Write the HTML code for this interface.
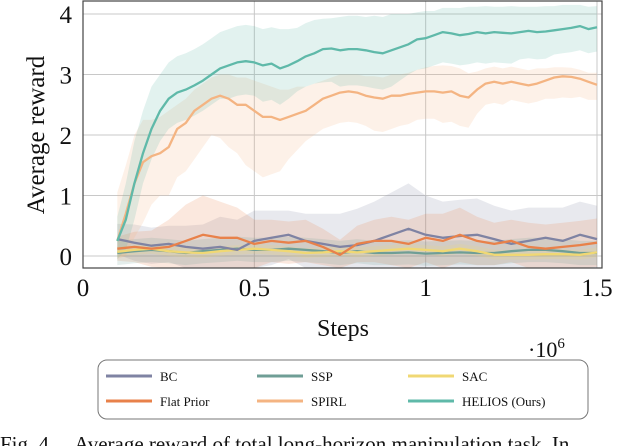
<!DOCTYPE html>
<html><head><meta charset="utf-8">
<style>
html,body{margin:0;padding:0;background:#fff;width:628px;height:446px;overflow:hidden}
svg{display:block;font-family:"Liberation Serif",serif}
</style></head>
<body>
<svg id="chart" width="628" height="446" viewBox="0 0 628 446">
<g id="grid"></g>
<g id="bands"></g>
<g id="lines"></g>
<rect x="83" y="1" width="519" height="267" fill="none" stroke="#444" stroke-width="1.2"/>
<g id="ticks" font-size="25" fill="#111"></g>
<text transform="translate(44,135) rotate(-90)" text-anchor="middle" font-size="25" fill="#111">Average reward</text>
<text x="343" y="336" text-anchor="middle" font-size="24" fill="#111">Steps</text>
<g id="legend">
<rect x="98" y="360" width="490" height="59" rx="9" fill="#fff" stroke="#777" stroke-width="1"/>
</g>
<text x="528" y="357" font-size="22" fill="#111">·10<tspan dy="-9" font-size="15">6</tspan></text>
<text x="0" y="451" font-size="21" fill="#111" xml:space="preserve">Fig. 4.    Average reward of total long-horizon manipulation task. In</text>
</svg>
<script>
const xTicks=[0,0.5,1,1.5];
const xLabels=["0","0.5","1","1.5"];
const yTicks=[0,1,2,3,4];
const yLabels=["0","1","2","3","4"];
const seriesNames=["BC","SSP","SAC","Flat Prior","SPIRL","HELIOS (Ours)"];
const seriesColors=["#7f83a3","#6f9e96","#f0d874","#e8814a","#f4b482","#5fb9a9"];
const xFine=[];for(let i=0;i<57;i++)xFine.push(+(0.1+i*0.025).toFixed(3));
const xCoarse=[];for(let i=0;i<29;i++)xCoarse.push(+(0.1+i*0.05).toFixed(3));
const heliosMean=[0.25,0.6,1.2,1.7,2.1,2.4,2.6,2.7,2.75,2.82,2.9,3.0,3.1,3.15,3.2,3.22,3.2,3.15,3.18,3.1,3.15,3.22,3.3,3.35,3.42,3.43,3.4,3.42,3.42,3.4,3.37,3.35,3.4,3.45,3.5,3.58,3.6,3.65,3.7,3.68,3.65,3.67,3.7,3.68,3.7,3.69,3.68,3.7,3.72,3.7,3.71,3.73,3.75,3.77,3.8,3.75,3.78];
const heliosUp=[0.4,0.6,0.7,0.7,0.7,0.6,0.6,0.6,0.6,0.6,0.6,0.6,0.6,0.6,0.6,0.6,0.6,0.6,0.6,0.65,0.6,0.55,0.55,0.55,0.5,0.5,0.55,0.55,0.55,0.55,0.6,0.6,0.6,0.55,0.5,0.45,0.45,0.4,0.4,0.42,0.45,0.45,0.42,0.45,0.42,0.43,0.45,0.42,0.4,0.42,0.42,0.4,0.4,0.38,0.35,0.37,0.35];
const heliosLo=[0.3,0.5,0.6,0.5,0.5,0.5,0.5,0.5,0.5,0.5,0.5,0.5,0.5,0.55,0.55,0.55,0.55,0.6,0.6,0.6,0.55,0.5,0.5,0.5,0.55,0.55,0.6,0.6,0.6,0.6,0.6,0.6,0.6,0.55,0.5,0.5,0.5,0.5,0.5,0.5,0.5,0.5,0.5,0.5,0.5,0.5,0.5,0.45,0.45,0.45,0.45,0.4,0.4,0.4,0.4,0.4,0.4];
const spirlMean=[0.25,0.7,1.2,1.55,1.65,1.7,1.8,2.1,2.2,2.4,2.5,2.6,2.65,2.6,2.5,2.5,2.4,2.3,2.3,2.25,2.3,2.35,2.4,2.5,2.6,2.65,2.7,2.72,2.7,2.65,2.62,2.6,2.65,2.65,2.68,2.7,2.72,2.72,2.7,2.72,2.65,2.62,2.75,2.85,2.88,2.85,2.88,2.85,2.82,2.85,2.9,2.95,2.97,2.96,2.93,2.88,2.83];
const spirlUp=[0.8,0.8,0.8,0.7,0.6,0.6,0.6,0.4,0.4,0.35,0.35,0.35,0.35,0.4,0.45,0.45,0.5,0.55,0.5,0.5,0.45,0.45,0.4,0.35,0.3,0.3,0.3,0.28,0.3,0.32,0.35,0.35,0.35,0.35,0.35,0.38,0.4,0.42,0.45,0.42,0.45,0.4,0.3,0.25,0.25,0.25,0.25,0.25,0.25,0.25,0.2,0.17,0.15,0.15,0.15,0.15,0.2];
const spirlLo=[0.3,0.7,0.9,1.0,0.8,0.7,0.8,0.8,0.8,0.8,0.7,0.6,0.7,0.8,0.8,1.0,1.0,1.0,0.95,0.85,0.7,0.6,0.5,0.5,0.5,0.5,0.5,0.5,0.5,0.5,0.55,0.55,0.55,0.5,0.5,0.45,0.45,0.45,0.5,0.5,0.5,0.5,0.4,0.35,0.35,0.35,0.3,0.3,0.3,0.3,0.3,0.35,0.35,0.35,0.3,0.3,0.25];
const bcMean=[0.28,0.22,0.17,0.2,0.15,0.12,0.15,0.1,0.25,0.3,0.35,0.25,0.2,0.15,0.18,0.25,0.35,0.45,0.35,0.3,0.33,0.35,0.28,0.2,0.25,0.3,0.25,0.35,0.28];
const bcBand=[0.25,0.3,0.3,0.3,0.35,0.4,0.5,0.5,0.5,0.45,0.4,0.45,0.5,0.55,0.6,0.65,0.7,0.75,0.65,0.6,0.6,0.6,0.55,0.55,0.55,0.5,0.55,0.55,0.55];
const flatMean=[0.12,0.15,0.12,0.15,0.25,0.35,0.3,0.3,0.2,0.25,0.22,0.25,0.15,0.02,0.2,0.25,0.25,0.2,0.3,0.25,0.35,0.25,0.2,0.25,0.15,0.12,0.15,0.18,0.22];
const flatBand=[0.2,0.25,0.3,0.45,0.6,0.65,0.6,0.5,0.4,0.35,0.35,0.35,0.3,0.25,0.3,0.35,0.4,0.4,0.4,0.45,0.45,0.4,0.35,0.35,0.4,0.4,0.4,0.4,0.4];
const sspMean=[0.05,0.08,0.1,0.08,0.05,0.08,0.1,0.12,0.1,0.1,0.12,0.1,0.08,0.05,0.08,0.05,0.05,0.06,0.04,0.05,0.06,0.05,0.05,0.08,0.1,0.1,0.08,0.05,0.05];
const sspBand=[0.2,0.2,0.2,0.2,0.2,0.2,0.2,0.2,0.2,0.2,0.2,0.2,0.2,0.2,0.2,0.2,0.2,0.2,0.2,0.2,0.2,0.2,0.2,0.2,0.2,0.2,0.2,0.2,0.2];
const sacMean=[0.07,0.1,0.12,0.08,0.06,0.05,0.08,0.1,0.12,0.1,0.08,0.05,0.06,0.08,0.06,0.08,0.1,0.12,0.1,0.08,0.12,0.08,0.02,0.02,0.02,0.03,0.03,0.02,0.06];
const sacBand=[0.08,0.08,0.08,0.08,0.08,0.08,0.08,0.08,0.08,0.08,0.08,0.08,0.08,0.08,0.08,0.08,0.08,0.08,0.08,0.08,0.08,0.08,0.08,0.08,0.08,0.08,0.08,0.08,0.08];

const NS="http://www.w3.org/2000/svg";
const X0=83,X1=597,YB=256,YT=14;
function xs(v){return X0+(v/1.5)*(X1-X0);}
function ys(v){return YB-(v/4)*(YB-YT);}
function mk(tag,attrs,parent){const e=document.createElementNS(NS,tag);for(const k in attrs)e.setAttribute(k,attrs[k]);parent.appendChild(e);return e;}
const grid=document.getElementById('grid'),bands=document.getElementById('bands'),lines=document.getElementById('lines'),ticks=document.getElementById('ticks'),legend=document.getElementById('legend');
xTicks.forEach((t,i)=>{
  const l=mk('line',{x1:xs(t),x2:xs(t),y1:1,y2:268,stroke:'#c8c8c8','stroke-width':1},grid);
  
  
  const tx=mk('text',{x:xs(t),y:296,'text-anchor':'middle'},ticks);tx.textContent=xLabels[i];
  
  
});
yTicks.forEach((t,i)=>{
  const l=mk('line',{x1:83,x2:602,y1:ys(t),y2:ys(t),stroke:'#c8c8c8','stroke-width':1},grid);
  
  
  const tx=mk('text',{x:72,y:ys(t)+9,'text-anchor':'end'},ticks);tx.textContent=yLabels[i];
  
  
});
function band(xa,m,up,lo,col,name){
  let d='';
  xa.forEach((x,i)=>{d+=(i?'L':'M')+xs(x).toFixed(1)+','+ys(m[i]+up[i]).toFixed(1);});
  for(let i=xa.length-1;i>=0;i--)d+='L'+xs(xa[i]).toFixed(1)+','+ys(Math.max(-0.2,m[i]-lo[i])).toFixed(1);
  const p=mk('path',{d:d+'Z',fill:col,'fill-opacity':0.18,stroke:'none'},bands);
  
  
}
function line(xa,m,col,name){
  const pts=xa.map((x,i)=>xs(x).toFixed(1)+','+ys(m[i]).toFixed(1)).join(' ');
  const p=mk('polyline',{points:pts,fill:'none',stroke:col,'stroke-width':2.3,'stroke-linejoin':'round'},lines);
  
  
}
band(xCoarse,bcMean,bcBand,bcBand,seriesColors[0],'bc');
band(xCoarse,flatMean,flatBand,flatBand,seriesColors[3],'flat-prior');
band(xCoarse,sspMean,sspBand,sspBand,seriesColors[1],'ssp');
band(xCoarse,sacMean,sacBand,sacBand,seriesColors[2],'sac');
band(xFine,spirlMean,spirlUp,spirlLo,seriesColors[4],'spirl');
band(xFine,heliosMean,heliosUp,heliosLo,seriesColors[5],'helios');
line(xCoarse,sspMean,seriesColors[1],'ssp');
line(xCoarse,sacMean,seriesColors[2],'sac');
line(xCoarse,bcMean,seriesColors[0],'bc');
line(xCoarse,flatMean,seriesColors[3],'flat-prior');
line(xFine,spirlMean,seriesColors[4],'spirl');
line(xFine,heliosMean,seriesColors[5],'helios');
const legOrder=[0,1,2,3,4,5];
legOrder.forEach((s,i)=>{
  const col=i%3,row=Math.floor(i/3);
  const lx=106+col*151,ly=376+row*25;
  const g=mk('g',{},legend);
  
  
  mk('line',{x1:lx,x2:lx+46,y1:ly,y2:ly,stroke:seriesColors[s],'stroke-width':3},g);
  const t=mk('text',{x:lx+54,y:ly+5,'font-size':13,fill:'#111'},g);t.textContent=seriesNames[s];
});
</script>
</body></html>
